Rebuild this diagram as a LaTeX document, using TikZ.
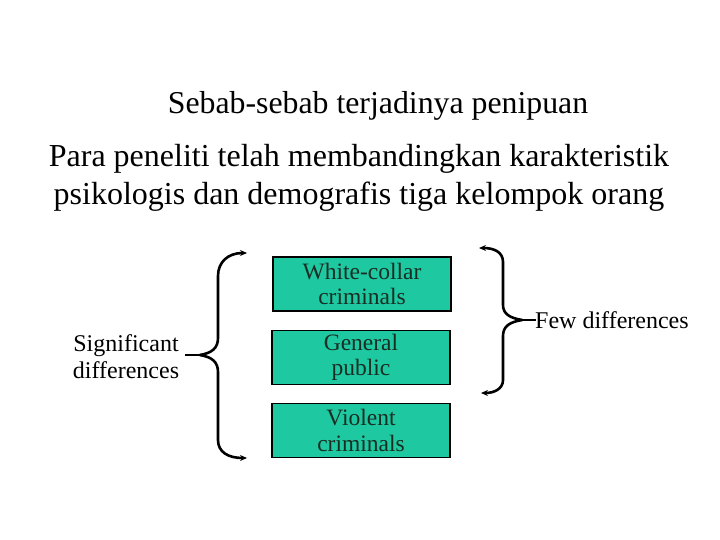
\documentclass[tikz,border=0pt]{standalone}
\usepackage{fontspec}
\setmainfont{Liberation Serif}
\usetikzlibrary{arrows.meta}
\definecolor{boxfill}{RGB}{30,200,160}
\definecolor{boxtext}{RGB}{25,45,35}
\tikzset{
  catbox/.style={draw=black, line width=1.6pt, fill=boxfill, minimum width=178pt, minimum height=54pt,
    inner sep=0pt, align=center, text=boxtext, font=\fontsize{23.5}{25.5}\selectfont},
  lbl/.style={align=center, inner sep=0pt, font=\fontsize{24}{27}\selectfont},
  brace/.style={line width=2.6pt, line cap=round, -{Stealth[length=7pt,width=6pt]}}
}
\begin{document}
\begin{tikzpicture}[x=1pt,y=-1pt]
\useasboundingbox (0,0) rectangle (720,540);
\node[font=\fontsize{31.8}{36}\selectfont, inner sep=0pt] (title) at (378,106) {Sebab-sebab terjadinya penipuan};
\node[font=\fontsize{32}{38}\selectfont, align=center, inner sep=0pt] (sub) at (359,178)
  {Para peneliti telah membandingkan karakteristik\\psikologis dan demografis tiga kelompok orang};
\node[catbox] (wc) at (362,284) {White-collar\\criminals};
\node[catbox] (gp) at (361,357.5) {General\\public};
\node[catbox] (vc) at (361,430.5) {Violent\\criminals};
\node[lbl] (sig) at (126,357) {Significant\\differences};
\node[lbl, anchor=west] (few) at (535,320) {Few differences};
% left brace
\coordinate (ltip) at (200,355);
\coordinate (lstub) at (185,355);
\coordinate (ltop) at (247,253);
\coordinate (lbot) at (247,458);
\draw[line width=2.6pt] (lstub) -- (ltip);
\draw[brace] (ltip) .. controls (212,353) and (218,348) .. (218,338) -- (218,276)
  .. controls (218,262) and (228,253) .. (ltop);
\draw[brace] (ltip) .. controls (212,357) and (218,362) .. (218,372) -- (218,440)
  .. controls (218,452) and (228,458) .. (lbot);
% right brace
\coordinate (rtip) at (522,320);
\coordinate (rstub) at (536,320);
\coordinate (rtop) at (479,248);
\coordinate (rbot) at (481,393);
\draw[line width=2.6pt] (rtip) -- (rstub);
\draw[brace] (rtip) .. controls (510,318) and (503,314) .. (503,305) -- (503,262)
  .. controls (503,252) and (494,248) .. (rtop);
\draw[brace] (rtip) .. controls (510,322) and (503,326) .. (503,336) -- (503,380)
  .. controls (503,389) and (494,393) .. (rbot);
\end{tikzpicture}
\end{document}
